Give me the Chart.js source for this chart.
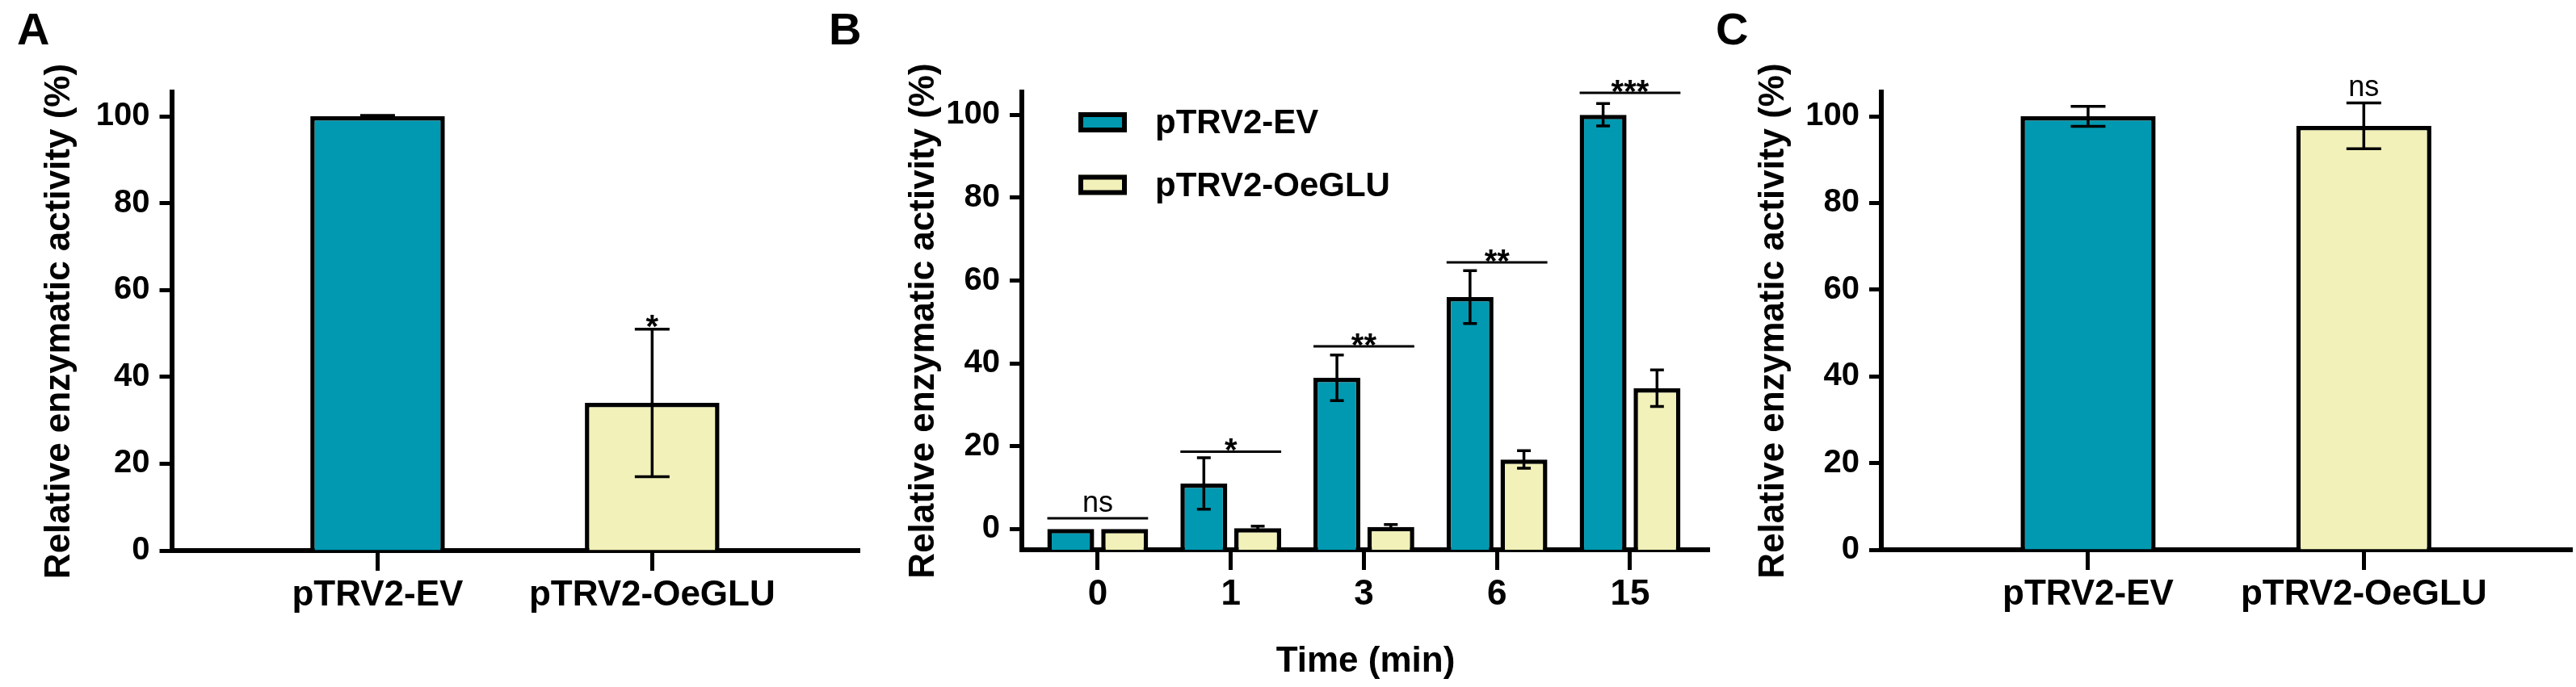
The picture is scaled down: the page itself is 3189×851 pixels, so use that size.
<!DOCTYPE html>
<html>
<head>
<meta charset="utf-8">
<script src="https://cdn.jsdelivr.net/npm/chart.js@4.4.1/dist/chart.umd.min.js"></script>
<style>
  body { margin: 0; background: #fff; }
  #page { position: relative; width: 3189px; height: 851px; font-family: "Liberation Sans", Arial, sans-serif; }
  .panel { position: absolute; top: 0; height: 851px; }
  .letter { position: absolute; top: 8px; font-weight: bold; font-size: 56px; line-height: 1; color: #000; }
</style>
</head>
<body>
<div id="page">
  <div class="letter" style="left:21px">A</div>
  <div class="letter" style="left:1026px">B</div>
  <div class="letter" style="left:2124px">C</div>
  <div class="panel" style="left:0;width:1068px"><canvas id="chartA"></canvas></div>
  <div class="panel" style="left:1068px;width:1062px"><canvas id="chartB"></canvas></div>
  <div class="panel" style="left:2130px;width:1059px"><canvas id="chartC"></canvas></div>
</div>
<script>
// panel A: whole-plant extract
const groupsA = ["pTRV2-EV", "pTRV2-OeGLU"];
const meanA = [100, 34];
const errA = [0.2, 17];
const sigA = ["", "*"];

// panel B: time course
const timesB = ["0", "1", "3", "6", "15"];
const evB = [0, 11, 36.5, 56, 100];
const evErrB = [0, 6.2, 5.5, 6.4, 2.7];
const gluB = [0, 0.2, 0.5, 16.8, 34];
const gluErrB = [0, 0.5, 0.6, 2.1, 4.4];
const sigB = ["ns", "*", "**", "**", "***"];
const sigLineB = [2.6, 18.7, 44.1, 64.4, 105.3];

// panel C
const groupsC = ["pTRV2-EV", "pTRV2-OeGLU"];
const meanC = [100, 97.8];
const errC = [2.3, 5.3];
const sigC = ["", "ns"];

const yTicks = [0, 20, 40, 60, 80, 100];

const TEAL = "#0099B1";
const CREAM = "#F1F1B9";
const FONT = '"Liberation Sans", Arial, sans-serif';

Chart.defaults.font.family = FONT;
Chart.defaults.color = "#000";

const errorBarPlugin = {
  id: "errorBars",
  afterDatasetsDraw(chart, args, opts) {
    const ctx = chart.ctx;
    const y = chart.scales.y;
    ctx.save();
    ctx.strokeStyle = "#000";
    ctx.lineWidth = opts.lineWidth;
    chart.data.datasets.forEach((ds, di) => {
      const meta = chart.getDatasetMeta(di);
      meta.data.forEach((bar, i) => {
        const e = ds.errors[i];
        if (!e) return;
        const v = ds.data[i].y;
        const top = y.getPixelForValue(v + e);
        const bot = y.getPixelForValue(v - e);
        const half = opts.capWidth / 2;
        ctx.beginPath();
        ctx.moveTo(bar.x, top); ctx.lineTo(bar.x, bot);
        ctx.moveTo(bar.x - half, top); ctx.lineTo(bar.x + half, top);
        ctx.moveTo(bar.x - half, bot); ctx.lineTo(bar.x + half, bot);
        ctx.stroke();
      });
    });
    ctx.restore();
  }
};

function drawSigText(ctx, text, x, y) {
  const stars = text.indexOf("*") >= 0;
  ctx.font = (stars ? "bold 40px " : "36px ") + FONT;
  ctx.textAlign = "center";
  ctx.textBaseline = "alphabetic";
  ctx.fillStyle = "#000";
  ctx.fillText(text, x, stars ? y + 12 : y - 8);
}

// marks above single bars (A, C)
const sigAbovePlugin = {
  id: "sigAbove",
  afterDatasetsDraw(chart, args, opts) {
    const ctx = chart.ctx;
    const ds = chart.data.datasets[0];
    const meta = chart.getDatasetMeta(0);
    ctx.save();
    opts.labels.forEach((t, i) => {
      if (!t) return;
      const top = chart.scales.y.getPixelForValue(ds.data[i].y + ds.errors[i]);
      drawSigText(ctx, t, meta.data[i].x, t.indexOf("*") >= 0 ? top - 2 : top);
    });
    ctx.restore();
  }
};

// bracket lines over grouped bars (B)
const sigLinePlugin = {
  id: "sigLines",
  afterDatasetsDraw(chart, args, opts) {
    const ctx = chart.ctx;
    const m0 = chart.getDatasetMeta(0);
    const m1 = chart.getDatasetMeta(chart.data.datasets.length - 1);
    ctx.save();
    opts.labels.forEach((t, i) => {
      const y = chart.scales.y.getPixelForValue(opts.levels[i]);
      const a = m0.data[i], b = m1.data[i];
      const x1 = a.x - a.width / 2, x2 = b.x + b.width / 2;
      ctx.strokeStyle = "#000";
      ctx.lineWidth = 3;
      ctx.beginPath();
      ctx.moveTo(x1, y); ctx.lineTo(x2, y);
      ctx.stroke();
      drawSigText(ctx, t, (x1 + x2) / 2, y);
    });
    ctx.restore();
  }
};

const innerLegendPlugin = {
  id: "innerLegend",
  afterDraw(chart, args, opts) {
    const { ctx, chartArea } = chart;
    ctx.save();
    chart.data.datasets.forEach((ds, i) => {
      const bx = chartArea.left + opts.left;
      const by = chartArea.top + opts.top + i * opts.rowGap;
      ctx.fillStyle = ds.backgroundColor;
      ctx.fillRect(bx, by, opts.boxWidth, opts.boxHeight);
      ctx.lineWidth = 6;
      ctx.strokeStyle = "#000";
      ctx.strokeRect(bx + 3, by + 3, opts.boxWidth - 6, opts.boxHeight - 6);
      ctx.font = "bold 42px " + FONT;
      ctx.fillStyle = "#000";
      ctx.textAlign = "left";
      ctx.textBaseline = "middle";
      ctx.fillText(ds.label, chartArea.left + opts.textLeft, by + opts.boxHeight / 2 + 2);
    });
    ctx.restore();
  }
};

function yScale(min, max, width, titlePad) {
  return {
    min: min,
    max: max,
    afterBuildTicks: s => { s.ticks = yTicks.map(v => ({ value: v })); },
    afterFit: s => { s.width = width; },
    border: { color: "#000", width: 6 },
    grid: { drawOnChartArea: false, tickLength: 15, tickWidth: 5, tickColor: "#000" },
    ticks: { color: "#000", padding: 12, font: { size: 40, weight: "bold" } },
    title: {
      display: true,
      text: "Relative enzymatic activity (%)",
      color: "#000",
      font: { size: 44, weight: "bold" },
      padding: { top: titlePad, bottom: 0 }
    }
  };
}

function xScale(names, min, max, height, title) {
  return {
    type: "linear",
    min: min,
    max: max,
    offset: false,
    afterBuildTicks: s => { s.ticks = names.map((n, i) => ({ value: i })); },
    afterFit: s => { s.height = height; },
    border: { color: "#000", width: 6 },
    grid: { offset: false, drawOnChartArea: false, tickLength: 25, tickWidth: 5, tickColor: "#000" },
    ticks: {
      color: "#000",
      padding: 4,
      autoSkip: false,
      maxRotation: 0,
      font: { size: 44, weight: "bold" },
      callback: v => names[v]
    },
    title: title ? {
      display: true,
      text: title,
      color: "#000",
      font: { size: 44, weight: "bold" },
      padding: { top: 0, bottom: 5 }
    } : { display: false }
  };
}

function singleBarChart(id, names, means, errs, sigs, yWidth, titlePad, rightPad) {
  return new Chart(document.getElementById(id), {
    type: "bar",
    data: {
      datasets: [{
        data: names.map((n, i) => ({ x: i, y: means[i] })),
        errors: errs,
        backgroundColor: [TEAL, CREAM],
        borderColor: "#000",
        borderWidth: 5.5,
        categoryPercentage: 1,
        barPercentage: 0.49
      }]
    },
    options: {
      responsive: true,
      maintainAspectRatio: false,
      animation: false,
      layout: { padding: { top: 114, right: rightPad, left: 0, bottom: 0 } },
      plugins: {
        legend: { display: false },
        tooltip: { enabled: false },
        errorBars: { lineWidth: 3.5, capWidth: 43 },
        sigAbove: { labels: sigs }
      },
      scales: {
        x: xScale(names, -0.75, 1.755, id === "chartA" ? 169 : 170, null),
        y: yScale(0, 105.6, yWidth, titlePad)
      }
    },
    plugins: [errorBarPlugin, sigAbovePlugin]
  });
}

singleBarChart("chartA", groupsA, meanA, errA, sigA, 212.5, 47.6, 4);
singleBarChart("chartC", groupsC, meanC, errC, sigC, 199, 39.6, 5);

new Chart(document.getElementById("chartB"), {
  type: "bar",
  data: {
    datasets: [
      {
        label: "pTRV2-EV",
        data: timesB.map((t, i) => ({ x: i, y: evB[i] })),
        errors: evErrB,
        backgroundColor: TEAL,
        borderColor: "#000",
        borderWidth: 5.5,
        base: -5,
        categoryPercentage: 0.81,
        barPercentage: 0.87
      },
      {
        label: "pTRV2-OeGLU",
        data: timesB.map((t, i) => ({ x: i, y: gluB[i] })),
        errors: gluErrB,
        backgroundColor: CREAM,
        borderColor: "#000",
        borderWidth: 5.5,
        base: -5,
        categoryPercentage: 0.81,
        barPercentage: 0.87
      }
    ]
  },
  options: {
    responsive: true,
    maintainAspectRatio: false,
    animation: false,
    layout: { padding: { top: 114, right: 14, left: 0, bottom: 0 } },
    plugins: {
      legend: { display: false },
      tooltip: { enabled: false },
      errorBars: { lineWidth: 3.5, capWidth: 17 },
      sigLines: { labels: sigB, levels: sigLineB },
      innerLegend: { left: 70, top: 25, rowGap: 77.5, boxWidth: 60, boxHeight: 25, textLeft: 165 }
    },
    scales: {
      x: xScale(timesB, -0.57, 4.595, 170, "Time (min)"),
      y: yScale(-5, 105.5, 197, 49.6)
    }
  },
  plugins: [errorBarPlugin, sigLinePlugin, innerLegendPlugin]
});
</script>
</body>
</html>
